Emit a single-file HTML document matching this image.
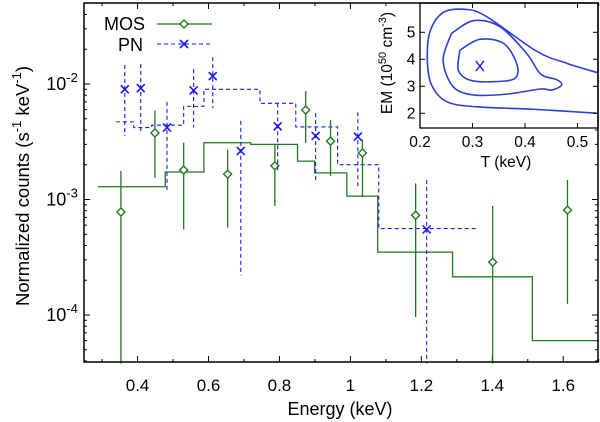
<!DOCTYPE html>
<html><head><meta charset="utf-8"><style>
body{margin:0;background:#fff}
svg{display:block;font-family:"Liberation Sans",sans-serif}
</style></head><body>
<svg id="c" width="600" height="422" viewBox="0 0 600 422"></svg>
<script>
// ---- data ----
const mosE=[0.353,0.449,0.530,0.654,0.787,0.874,0.944,1.034,1.184,1.401,1.612];
const mosV=[7.8e-4,3.77e-3,1.8e-3,1.66e-3,1.96e-3,5.96e-3,3.2e-3,2.53e-3,7.3e-4,2.87e-4,8.1e-4];
const mosHi=[1.77e-3,5.9e-3,3.1e-3,2.7e-3,3.0e-3,8.7e-3,4.9e-3,3.3e-3,1.38e-3,8.8e-4,1.48e-3];
const mosLo=[1e-6,1.54e-3,5.5e-4,5.7e-4,8.8e-4,3.1e-3,1.6e-3,1.05e-3,9.6e-5,1e-6,1.25e-4];
const mosModelEdges=[0.288,0.478,0.587,0.719,0.851,0.899,0.990,1.077,1.288,1.513,1.70];
const mosModelV=[1.29e-3,1.73e-3,3.1e-3,3.0e-3,2.15e-3,1.7e-3,1.07e-3,3.5e-4,2.14e-4,6.0e-5];
const pnE=[0.364,0.409,0.483,0.558,0.612,0.691,0.795,0.902,1.021,1.215];
const pnV=[9.0e-3,9.2e-3,4.2e-3,8.8e-3,1.17e-2,2.63e-3,4.3e-3,3.55e-3,3.5e-3,5.5e-4];
const pnHi=[1.46e-2,1.49e-2,7e-3,1.35e-2,1.71e-2,4.8e-3,6.8e-3,5.6e-3,5.7e-3,1.48e-3];
const pnLo=[3.55e-3,3.76e-3,1.16e-3,4.2e-3,6.2e-3,2.2e-4,1.7e-3,1.38e-3,1.25e-3,1e-6];
const pnModelEdges=[0.339,0.389,0.44,0.530,0.587,0.745,0.846,0.964,1.080,1.353];
const pnModelV=[4.7e-3,4.2e-3,4.4e-3,6.4e-3,9.0e-3,6.8e-3,4.25e-3,2.0e-3,5.6e-4];
const xTicks=[0.4,0.6,0.8,1,1.2,1.4,1.6];
const xTickLabels=["0.4","0.6","0.8","1","1.2","1.4","1.6"];
const yTicks=[-4,-3,-2];
// inset contours (T keV, EM 1e50)
const c1T=[0.545,0.480,0.422,0.327,0.286,0.244,0.219,0.214,0.222,0.251,0.308,0.416,0.545];
const c1E=[3.50,3.85,4.30,5.58,5.85,5.73,5.02,3.97,3.05,2.43,2.24,2.15,2.0];
const c2T=[0.260,0.302,0.352,0.403,0.430,0.460,0.470,0.451,0.430,0.365,0.302,0.263,0.244,0.260];
const c2E=[4.96,5.43,5.21,4.22,3.45,3.25,3.05,2.86,2.90,2.71,2.68,2.99,3.97,4.96];
const c3T=[0.276,0.314,0.359,0.384,0.381,0.340,0.295,0.273,0.276];
const c3E=[4.34,4.74,4.59,3.85,3.30,3.17,3.23,3.60,4.34];
const bestT=[0.314], bestEM=[3.75];
const insetXTicks=[0.2,0.3,0.4,0.5], insetYTicks=[2,3,4,5];

// ---- axes ----
const L=84,R=598,T=3,B=362;
const xMin=0.249,xMax=1.698;
const X=e=>L+(e-xMin)/(xMax-xMin)*(R-L);
const Y=v=>{const l=Math.max(Math.log10(v),-4.42);return 84+(-2-l)*115.5;};
const IL=420,IR=598,IT=3,IB=128;
const IX=t=>Math.min(IR,IL+(t-0.2)*525);
const IY=e=>32.3+(5-e)*27;

const svg=document.getElementById('c');
const NS='http://www.w3.org/2000/svg';
function mk(tag,attrs,parent){const el=document.createElementNS(NS,tag);for(const k in attrs)el.setAttribute(k,attrs[k]);(parent||svg).appendChild(el);return el;}
const GREEN='#1f7a1f',BLUE='#1a1aee',CBLUE='#2f3fd0';

// ticks main
const tg=mk('g',{stroke:'#000','stroke-width':1});


for(let k=3;k<=17;k++){const v=k/10;const x=X(v);const len=(k%2==0)?6:3;
 mk('line',{x1:x,x2:x,y1:B,y2:B-len},tg);mk('line',{x1:x,x2:x,y1:T,y2:T+len},tg);}
for(let d=-5;d<=-1;d++){for(let m=1;m<10;m++){const v=m*Math.pow(10,d);const y=Y(v);if(y<T||y>B||Math.log10(v)<-4.41)continue;const len=m==1?6:3;
 mk('line',{x1:L,x2:L+len,y1:y,y2:y},tg);mk('line',{x1:R,x2:R-len,y1:y,y2:y},tg);}}
xTicks.forEach((v,i)=>{const t=mk('text',{x:X(v),y:391,'font-size':17,'text-anchor':'middle'});t.textContent=xTickLabels[i];
 
 });
yTicks.forEach(p=>{const t=mk('text',{x:62,y:Y(Math.pow(10,p))+6,'font-size':18,'text-anchor':'middle'});t.innerHTML='10<tspan dy="-8" font-size="13">'+p+'</tspan>';
 
 });

// inset background (frame only)
const ibg=mk('rect',{x:IL,y:IT,width:IR-IL,height:IB-IT,fill:'#fff'});



// models
function stepPath(edges,vals){let d='M'+X(edges[0])+','+Y(vals[0]);for(let i=0;i<vals.length;i++){d+='L'+X(edges[i])+','+Y(vals[i])+'L'+X(edges[i+1])+','+Y(vals[i]);}return d;}
const mm=mk('path',{d:stepPath(mosModelEdges,mosModelV),fill:'none',stroke:GREEN,'stroke-width':1.3});


const pm=mk('path',{d:stepPath(pnModelEdges,pnModelV),fill:'none',stroke:BLUE,'stroke-width':1.1,'stroke-dasharray':'4,3'});



// data points
mosE.forEach((e,i)=>{const g=mk('g',{});
 
 
 const x=X(e);mk('line',{x1:x,x2:x,y1:Y(mosHi[i]),y2:Y(mosLo[i]),stroke:GREEN,'stroke-width':1.3},g);
 const y=Y(mosV[i]);mk('path',{d:`M${x-4},${y}L${x},${y-4}L${x+4},${y}L${x},${y+4}Z`,fill:'#fff',stroke:GREEN,'stroke-width':1.4},g);});
pnE.forEach((e,i)=>{const g=mk('g',{});
 
 
 const x=X(e);mk('line',{x1:x,x2:x,y1:Y(pnHi[i]),y2:Y(pnLo[i]),stroke:BLUE,'stroke-width':1.1,'stroke-dasharray':'4,3'},g);
 const y=Y(pnV[i]);mk('path',{d:`M${x-4},${y-4}L${x+4},${y+4}M${x-4},${y+4}L${x+4},${y-4}`,stroke:BLUE,'stroke-width':1.6},g);});

// frame
const fr=mk('rect',{x:L,y:T,width:R-L,height:B-T,fill:'none',stroke:'#000','stroke-width':1.5});



// legend
const lg=mk('g',{});


let t=mk('text',{x:145,y:30,'font-size':18,'text-anchor':'end'},lg);t.textContent='MOS';
mk('line',{x1:157,x2:212,y1:24,y2:24,stroke:GREEN,'stroke-width':1.3},lg);
mk('path',{d:'M180,24L184,20L188,24L184,28Z',fill:'#fff',stroke:GREEN,'stroke-width':1.4},lg);
t=mk('text',{x:143,y:51,'font-size':18,'text-anchor':'end'},lg);t.textContent='PN';
mk('line',{x1:157,x2:212,y1:44,y2:44,stroke:BLUE,'stroke-width':1.1,'stroke-dasharray':'4,3'},lg);
mk('path',{d:'M180,40L188,48M180,48L188,40',stroke:BLUE,'stroke-width':1.6},lg);

// titles
t=mk('text',{x:340,y:415,'font-size':18,'text-anchor':'middle'});t.textContent='Energy (keV)';


t=mk('text',{x:0,y:0,'font-size':18.5,'text-anchor':'middle',transform:'translate(29,186) rotate(-90)'});
t.innerHTML='Normalized counts (s<tspan dy="-8" font-size="13">-1</tspan><tspan dy="8"> keV</tspan><tspan dy="-8" font-size="13">-1</tspan><tspan dy="8">)</tspan>';



// inset
const ig=mk('g',{});


function smooth(ts,es){const p=ts.map((v,i)=>[IX(v),IY(es[i])]);const n=p.length;let d='M'+p[0][0]+','+p[0][1];
 for(let i=0;i<n-1;i++){const p0=p[Math.max(i-1,0)],p1=p[i],p2=p[i+1],p3=p[Math.min(i+2,n-1)];
  d+='C'+(p1[0]+(p2[0]-p0[0])/6)+','+(p1[1]+(p2[1]-p0[1])/6)+' '+(p2[0]-(p3[0]-p1[0])/6)+','+(p2[1]-(p3[1]-p1[1])/6)+' '+p2[0]+','+p2[1];}
 return d;}
[[c1T,c1E],[c2T,c2E],[c3T,c3E]].forEach(([a,b])=>{const p=mk('path',{d:smooth(a,b),fill:'none',stroke:CBLUE,'stroke-width':1.6,'stroke-linejoin':'round'},ig);
 
 });
const bx=IX(bestT[0]),by=IY(bestEM[0]);
mk('path',{d:`M${bx-4},${by-5}L${bx+4},${by+5}M${bx-4},${by+5}L${bx+4},${by-5}`,stroke:BLUE,'stroke-width':1.4},ig);
mk('rect',{x:IL,y:IT,width:IR-IL,height:IB-IT,fill:'none',stroke:'#000','stroke-width':1.3},ig);
insetXTicks.forEach(v=>{const x=IX(v);mk('line',{x1:x,x2:x,y1:IB,y2:IB-5,stroke:'#000'},ig);mk('line',{x1:x,x2:x,y1:IT,y2:IT+5,stroke:'#000'},ig);
 const tt=mk('text',{x:x,y:147,'font-size':15.5,'text-anchor':'middle'},ig);tt.textContent=String(v);});
insetYTicks.forEach(v=>{const y=IY(v);mk('line',{x1:IL,x2:IL+5,y1:y,y2:y,stroke:'#000'},ig);mk('line',{x1:IR,x2:IR-5,y1:y,y2:y,stroke:'#000'},ig);
 const tt=mk('text',{x:411,y:y+5,'font-size':15.5,'text-anchor':'middle'},ig);tt.textContent=String(v);});
t=mk('text',{x:506,y:167,'font-size':15.5,'text-anchor':'middle'},ig);t.textContent='T (keV)';
t=mk('text',{x:0,y:0,'font-size':15.5,'text-anchor':'middle',transform:'translate(392,63) rotate(-90)'},ig);
t.innerHTML='EM (10<tspan dy="-6" font-size="11">50</tspan><tspan dy="6"> cm</tspan><tspan dy="-6" font-size="11">-3</tspan><tspan dy="6">)</tspan>';
</script>
</body></html>
